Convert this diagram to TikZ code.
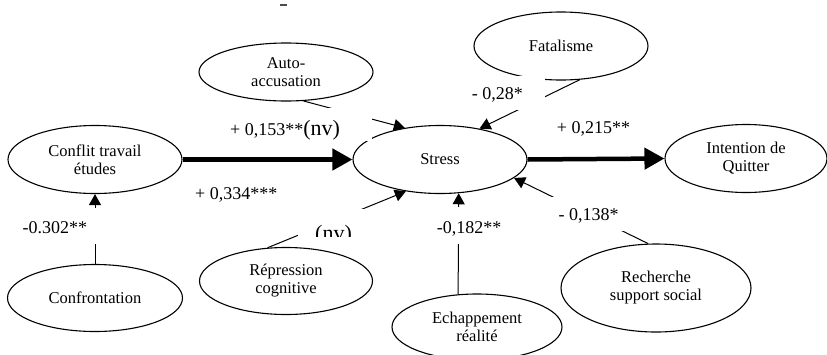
\documentclass[tikz,border=0pt]{standalone}
\usepackage{fontspec}
\setmainfont{Liberation Serif}
\usetikzlibrary{shapes.geometric,arrows.meta}
\newcommand\nvsize{\fontsize{22}{24}\selectfont}
\begin{document}
\begin{tikzpicture}[x=1pt,y=-1pt,
  ell/.style={ellipse, draw, line width=1.1pt, fill=white, inner sep=0pt, align=center,
              font=\fontsize{16.5}{18}\selectfont},
  weakarrow/.style={line width=1pt, -{Triangle[length=11pt,width=12pt]}},
  strongarrow/.style={line width=4.5pt, -{Triangle[length=20pt,width=21pt]}},
  coef/.style={inner sep=0pt, anchor=base west, font=\fontsize{18}{20}\selectfont},
  mask/.style={fill=white}]
\useasboundingbox (0,0) rectangle (827,354);

% ellipses
\node[ell, minimum width=174pt, minimum height=68pt] (conflit) at (95,159.5) {Conflit travail\\études};
\node[ell, minimum width=174pt, minimum height=68pt] (stress) at (440,159.5) {Stress};
\node[ell, minimum width=162pt, minimum height=68pt] (intent) at (746,158.5) {Intention de\\Quitter};
\node[ell, minimum width=174pt, minimum height=58pt] (auto) at (286,72) {Auto-\\accusation};
\node[ell, minimum width=174pt, minimum height=68pt] (fatal) at (561,46) {Fatalisme};
\node[ell, minimum width=175pt, minimum height=67pt] (confr) at (95,298) {Confrontation};
\node[ell, minimum width=173pt, minimum height=67pt] (rep) at (286,281) {Répression\\cognitive};
\node[ell, minimum width=170pt, minimum height=66pt] (echap) at (477,327) {Echappement\\réalité};
\node[ell, minimum width=190pt, minimum height=88pt] (rech) at (656,288) {Recherche\\support social};

% connectors
\draw[strongarrow] (conflit) -- (stress);
\draw[strongarrow] (stress.east) -- (intent.west);
\draw[weakarrow] (auto.-59) -- (stress.138);
\draw[weakarrow] (fatal.-61) -- (stress.38);
\draw[weakarrow] (confr.north) -- (conflit.south);
\draw[weakarrow] (rep.119) -- (stress.223);
\draw[weakarrow] (echap.120.5) -- (stress.-61.6);
\draw[weakarrow] (rech.100) -- (stress.-14);

% label boxes
\fill[mask] (226,108) rectangle (372,141);
\fill[mask] (465,76) rectangle (545,110);
\fill[mask] (15,208) rectangle (104,244);
\fill[mask] (430,207) rectangle (510,244);
\fill[mask] (550,197) rectangle (625,231);

% coefficients
\node[coef] (c153) at (230,135.5) {+ 0,153**{\nvsize(nv)}};
\node[coef] (c334) at (195,199) {+ 0,334***};
\node[coef] (c302) at (22.5,233) {-0.302**};
\node[coef] (c28) at (471.7,99.3) {- 0,28*};
\node[coef] (c215) at (556.7,133) {+ 0,215**};
\node[coef] (c182) at (436.7,233) {-0,182**};
\node[coef] (c138) at (558.3,220.5) {- 0,138*};
\begin{scope}
  \clip (298,209) rectangle (364,236);
  \fill[mask] (298,209) rectangle (364,236);
  \node[coef, font=\nvsize] (nv) at (315,240) {(nv)};
\end{scope}

% small mark at top
\draw[line width=1.2pt, black!70] (280,5) -- (287,5);
\end{tikzpicture}
\end{document}
